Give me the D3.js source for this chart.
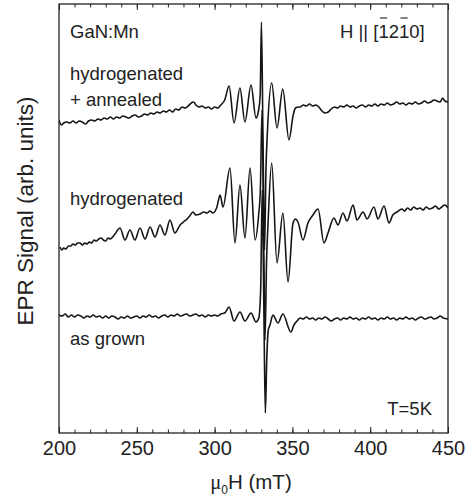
<!DOCTYPE html>
<html>
<head>
<meta charset="utf-8">
<script src="https://cdn.jsdelivr.net/npm/d3@7"></script>
<style>
  body { margin: 0; background: #fff; }
  svg { display: block; font-family: "Liberation Sans", Arial, sans-serif; }
  .axis path, .axis line { stroke: #222; }
  .axis text { font-family: "Liberation Sans", Arial, sans-serif; fill: #222; }
</style>
</head>
<body>
<svg id="chart" width="471" height="497"></svg>
<script>
// magnetic field (mT) and EPR signal (arb. units, stacked)
var annealed_field = [200,201.5,203,205,207,209,211,213,215,217,219,221,223,225,227,229,231,233,235,237,239,241,243,245,247,249,251,253,255,257,259,261,263,265,267,269,271,273,275,277,279,281,283,285,286.5,288,290,292,294,296,298,300,302,304,306.5,309.3,312.5,316.3,319.5,323.4,326.6,328.3,329.3,330.1,331.1,332.1,333,334,336.7,340.1,343.8,347.8,350.5,352,354,355,357,359,361,363,365,367,369,371,373,375,377,379,381,383,385,387,389,391,393,395,397,399,401,403,405,407,409,411,413,415,417,419,421,423,425,427,429,431,433,435,437,439,441,443,445,446.5,448,450];
var annealed_signal = [313,308,310,311,310,312,310,312,311,309,312,313,312,314,313,315,314,316,314,316,315,317,316,315,317,318,316,317,319,318,320,319,321,320,322,321,323,321,324,323,326,325,327,330,331,328,326,327,325,326,324,326,325,328,333,347,310,345,311,348,315,323,338,411,293,183,263,303,350,305,344,293,318,325,326,326,328,327,329,327,328,326,322,320,321,324,326,325,327,326,328,326,327,325,327,328,326,328,327,329,327,329,328,330,328,329,331,329,330,328,330,329,331,329,330,332,330,331,333,332,331,335,332,331];

var hydro_field = [200.6,201.8,203,204.5,206,207.5,209,210.5,212,213.5,215,216.5,218,219.5,221,222.5,224,225.5,227,228.5,230,231.5,233,234.5,236,239.2,242.4,245.6,248.8,252,255.3,258.5,261.7,264.9,268.1,271.3,274.5,277.8,280,282.3,284,286.1,288,290.6,293,295.1,297,299,301.5,303.5,305.4,309.9,313.1,316.3,319.5,322.8,326,328.3,329.4,330.5,331.5,332.4,333.4,334.3,336.7,340.1,343.9,347.2,350.4,352,353.6,356.8,360,363.2,366.5,370.3,372.9,376.7,379.3,382.5,385.1,389,391.5,395.4,398,402.4,405,408.9,412.1,414.5,417.2,420.4,422,424,426,428,430,432,434,436,438,440,442,444,446,448,450];
var hydro_signal = [186,183,185,184,187,187,189,188,190,190,188,190,189,191,190,193,192,194,195,193,192,195,194,196,199,205,193,203,193,205,194,206,196,208,198,213,200,208,211,214,217,221,218,219,221,220,222,220,226,238,226,265,190,248,195,265,193,218,243,323,203,93,173,208,270,170,220,151,210,214,211,193,210,218,224,190,200,215,208,220,212,228,213,221,214,226,214,227,210,218,221,224,222,225,223,226,224,225,223,226,224,225,227,224,226,228,225];

var grown_field = [200,202,204,206,208,210,212,214,216,218,220,222,224,226,228,230,232,234,236,238,240,242,244,246,248,250,252,254,256,258,260,262,264,266,268,270,272,274,276,278,280,282,284,286,288,290,292,294,296,298,300,302,304,306.5,309.3,312.5,316.3,319.5,323.4,326.6,328.4,329.6,330.6,331.6,332.6,333.5,334.5,335.6,337.5,340.7,343.9,349,351,353,355,357,359,361,363,365,367,369,371,373,375,377,379,381,383,385,387,389,391,393,395,397,399,401,403,405,407,409,411,413,415,417,419,421,423,425,427,429,431,433,435,437,439,441,443,445,447,450];
var grown_signal = [118,117,119,116,118,116,118,117,115,117,116,118,116,117,115,117,115,117,116,114,116,115,117,115,116,117,115,117,116,118,116,117,115,117,118,116,118,117,119,117,118,119,117,118,119,117,118,116,118,117,118,117,119,120,126,112,121,112,120,111,115,143,243,133,20,73,103,108,118,110,119,101,108,112,115,114,116,114,115,113,115,114,116,114,112,114,115,113,115,114,116,114,115,113,115,114,116,114,115,113,115,114,116,114,115,113,115,114,116,114,115,113,115,116,114,115,116,114,115,117,115,114];

var major_ticks = [200, 250, 300, 350, 400, 450];
var minor_ticks = d3.range(200, 451, 10);

var traces = [
    { name: 'annealed', field: annealed_field, signal: annealed_signal },
    { name: 'hydrogenated', field: hydro_field, signal: hydro_signal },
    { name: 'grown', field: grown_field, signal: grown_signal }
];

// plot frame (window.top is reserved, so no bare "top")
var plot_left = 59, plot_right = 448, plot_top = 4, plot_bottom = 433;
var svg = d3.select('#chart');

var x = d3.scaleLinear().domain([200, 450]).range([plot_left, plot_right]);
var y = d3.scaleLinear().domain([0, 429]).range([plot_bottom, plot_top]);

var line = d3.line()
    .x(function(d) { return x(d[0]); })
    .y(function(d) { return y(d[1]); })
    .curve(d3.curveMonotoneX);

svg.append('defs').append('clipPath').attr('id', 'plot')
    .append('rect')
    .attr('x', plot_left).attr('y', plot_top)
    .attr('width', plot_right - plot_left).attr('height', plot_bottom - plot_top);

traces.forEach(function(t) {
    var pts = t.field.map(function(f, i) { return [f, t.signal[i]]; });
    svg.append('path')
        .attr('class', 'trace ' + t.name)
        .attr('clip-path', 'url(#plot)')
        .attr('d', line(pts))
        .attr('fill', 'none')
        .attr('stroke', '#151515')
        .attr('stroke-width', 1.6)
        .attr('stroke-linejoin', 'round');
});

// minor ticks, inside, bottom and top
svg.append('g').attr('class', 'axis')
    .attr('transform', 'translate(0,' + plot_bottom + ')')
    .call(d3.axisBottom(x).tickValues(minor_ticks).tickSizeInner(-3.5).tickSizeOuter(0).tickFormat(''));
svg.append('g').attr('class', 'axis')
    .attr('transform', 'translate(0,' + plot_top + ')')
    .call(d3.axisTop(x).tickValues(minor_ticks).tickSizeInner(-3.5).tickSizeOuter(0).tickFormat(''));

// major ticks with labels
svg.append('g').attr('class', 'axis')
    .attr('transform', 'translate(0,' + plot_bottom + ')')
    .call(d3.axisBottom(x).tickValues(major_ticks).tickSizeInner(-6).tickSizeOuter(0).tickPadding(8))
    .selectAll('text').attr('font-size', 20);
svg.append('g').attr('class', 'axis')
    .attr('transform', 'translate(0,' + plot_top + ')')
    .call(d3.axisTop(x).tickValues(major_ticks).tickSizeInner(-6).tickSizeOuter(0).tickFormat(''));

svg.selectAll('.axis .domain').remove();

// frame
svg.append('rect')
    .attr('x', plot_left).attr('y', plot_top)
    .attr('width', plot_right - plot_left).attr('height', plot_bottom - plot_top)
    .attr('fill', 'none')
    .attr('stroke', '#222')
    .attr('stroke-width', 1.3);

// labels
function label(txt, lx, ly, anchor) {
    return svg.append('text')
        .attr('x', lx).attr('y', ly)
        .attr('font-size', 18.5)
        .attr('fill', '#222')
        .attr('text-anchor', anchor || 'start')
        .text(txt);
}
label('GaN:Mn', 70, 38);
label('hydrogenated', 70, 80);
label('+ annealed', 70, 106);
label('hydrogenated', 70, 205);
label('as grown', 70, 345);
label('T=5K', 432, 415, 'end');

var dir = label('H || [1210]', 340, 38);
// overbars on the two "1"s
var node = dir.node();
[6, 8].forEach(function(i) {
    var x0 = 340 + node.getSubStringLength(0, i);
    var w = node.getSubStringLength(i, 1);
    svg.append('line')
        .attr('x1', x0 + 1.5).attr('x2', x0 + w - 1.5)
        .attr('y1', 18).attr('y2', 18)
        .attr('stroke', '#222').attr('stroke-width', 1.1);
});

// axis titles
var xt = svg.append('text')
    .attr('x', 251).attr('y', 489)
    .attr('text-anchor', 'middle')
    .attr('font-size', 20.5)
    .attr('fill', '#222');
xt.append('tspan').attr('font-family', '"Liberation Serif", serif').text('\u03bc');
xt.append('tspan').attr('font-size', 12).attr('dy', 5).text('0');
xt.append('tspan').attr('dy', -5).text('H (mT)');

svg.append('text')
    .attr('transform', 'translate(33,211) rotate(-90)')
    .attr('text-anchor', 'middle')
    .attr('font-size', 22.5)
    .attr('fill', '#222')
    .text('EPR Signal (arb. units)');
</script>
</body>
</html>
